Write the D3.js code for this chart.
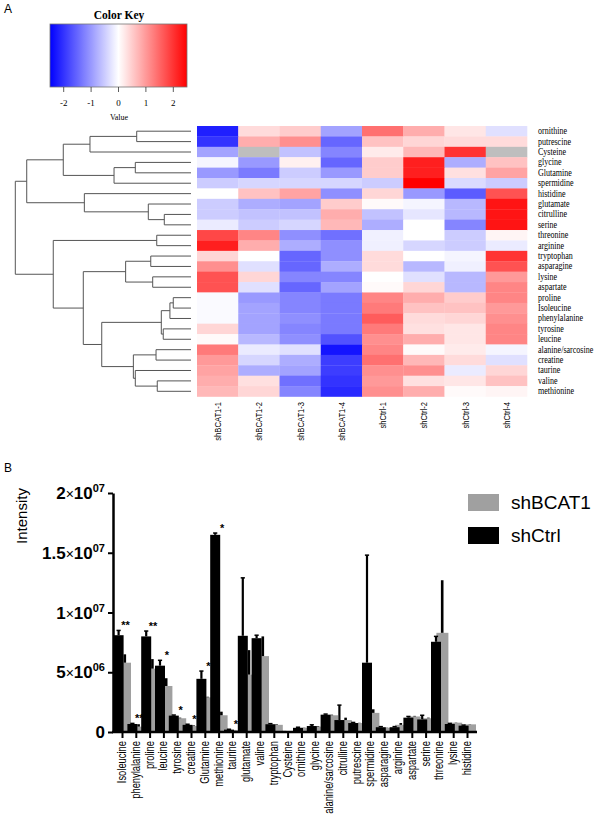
<!DOCTYPE html>
<html lang="en">
<head>
  <meta charset="UTF-8">
  <title>heatmap + bars</title>
  <script src="https://cdn.jsdelivr.net/npm/d3@7"></script>
  <style>
    body { margin: 0; background: #fff; }
  </style>
</head>
<body>
<svg></svg>
<script>
  const width = 610, height = 827

  // ---- panel A data ----
  const samples = ['shBCAT1-1', 'shBCAT1-2', 'shBCAT1-3', 'shBCAT1-4', 'shCtrl-1', 'shCtrl-2', 'shCtrl-3', 'shCtrl-4']
  const rowNames = ['ornithine', 'putrescine', 'Cysteine', 'glycine', 'Glutamine', 'spermidine', 'histidine',
    'glutamate', 'citrulline', 'serine', 'threonine', 'arginine', 'tryptophan', 'asparagine', 'lysine',
    'aspartate', 'proline', 'Isoleucine', 'phenylalanine', 'tyrosine', 'leucine', 'alanine/sarcosine',
    'creatine', 'taurine', 'valine', 'methionine']
  // row z-scores, one array per row, null = missing (grey)
  const zOrnithine = [-2.2, 0.35, 0.5, -0.9, 1.4, 0.8, 0.25, -0.3]
  const zPutrescine = [-2.0, 0.8, 1.1, -1.5, 0.6, 0.4, 0.35, 0.35]
  const zCysteine = [-0.9, null, -0.6, -1.2, 0.2, 0.7, 2.0, null]
  const zGlycine = [-0.1, -1.0, 0.15, -1.5, 0.5, 2.2, -0.8, 0.6]
  const zGlutamine = [-1.0, -1.3, -0.5, -1.0, 0.5, 2.2, 0.3, 0.9]
  const zSpermidine = [-0.5, -0.4, -0.4, -0.4, -0.5, 2.5, -0.35, -0.5]
  const zHistidine = [0.0, 0.6, 0.9, -1.1, 0.4, -1.0, -1.6, 1.7]
  const zGlutamate = [-0.5, -0.8, -0.9, 0.5, 0.05, -0.1, -0.7, 2.3]
  const zCitrulline = [-0.5, -0.6, -0.6, 0.8, -0.6, -0.25, -0.7, 2.3]
  const zSerine = [-0.2, -0.5, -0.4, 0.7, -0.8, 0.0, -1.2, 2.3]
  const zThreonine = [1.8, 1.2, -1.1, -1.4, -0.15, 0.0, -0.5, 0.1]
  const zArginine = [2.2, 0.8, -0.8, -1.1, -0.15, -0.4, -0.5, -0.2]
  const zTryptophan = [0.4, 0.0, -1.5, -1.1, 0.35, 0.0, -0.1, 2.0]
  const zAsparagine = [1.1, -0.3, -1.5, -0.8, 0.35, -0.7, -0.15, 1.7]
  const zLysine = [1.7, 0.4, -1.2, -1.2, 0.0, -0.3, -0.7, 1.0]
  const zAspartate = [1.7, -0.3, -1.5, -0.9, 0.05, 0.4, -0.7, 1.2]
  const zProline = [-0.05, -1.0, -1.2, -1.3, 1.2, 0.8, 0.5, 1.2]
  const zIsoleucine = [-0.05, -0.9, -1.2, -1.3, 1.3, 0.6, 0.6, 1.0]
  const zPhenylalanine = [-0.05, -0.9, -1.1, -1.3, 1.6, 0.35, 0.4, 1.1]
  const zTyrosine = [0.4, -0.9, -1.2, -1.3, 1.3, 0.3, 0.25, 1.2]
  const zLeucine = [0.05, -0.7, -1.1, -1.7, 1.1, 0.8, 0.25, 1.2]
  const zAlanine = [1.3, -0.2, -0.3, -2.3, 1.2, 0.05, 0.2, -0.1]
  const zCreatine = [1.0, -0.4, -0.8, -1.9, 1.4, 0.7, 0.35, -0.3]
  const zTaurine = [0.9, -0.8, -0.9, -1.9, 1.1, 1.1, -0.2, 0.4]
  const zValine = [0.8, 0.3, -1.4, -2.0, 1.0, 0.3, 0.25, 0.6]
  const zMethionine = [0.7, 0.4, -1.2, -2.1, 1.1, 0.8, 0.05, 0.1]
  const zRows = [zOrnithine, zPutrescine, zCysteine, zGlycine, zGlutamine, zSpermidine, zHistidine,
    zGlutamate, zCitrulline, zSerine, zThreonine, zArginine, zTryptophan, zAsparagine, zLysine,
    zAspartate, zProline, zIsoleucine, zPhenylalanine, zTyrosine, zLeucine, zAlanine, zCreatine,
    zTaurine, zValine, zMethionine]

  // hclust style merges: negative = leaf (1-based), positive = earlier merge, then height
  const dendroMerges = [
    [-1, -2, 3.09], [1, -3, 5.75], [-4, -5, 3.17], [3, -6, 4.38], [2, 4, 7.27],
    [-9, -10, 1.52], [-8, 6, 2.43], [-7, 7, 6.07], [5, 8, 9.35], [-11, -12, 1.95],
    [-13, -14, 2.29], [-15, -16, 2.18], [11, 12, 3.72], [-17, -18, 1.01], [14, -19, 1.20],
    [-20, -21, 1.58], [15, 16, 1.69], [-22, -23, 1.99], [-25, -26, 1.92], [-24, 19, 3.17],
    [18, 20, 3.28], [17, 21, 5.08], [13, 22, 6.13], [10, 23, 7.84], [9, 24, 10.0]
  ]
  const keyTicks = [-2, -1, 0, 1, 2]

  // ---- panel B data ----
  const metabolites = ['Isoleucine', 'phenylalanine', 'proline', 'leucine', 'tyrosine', 'creatine', 'Glutamine',
    'methionine', 'taurine', 'glutamate', 'valine', 'tryptophan', 'Cysteine', 'ornithine', 'glycine',
    'alanine/sarcosine', 'citrulline', 'putrescine', 'spermidine', 'asparagine', 'arginine', 'aspartate',
    'serine', 'threonine', 'lysine', 'histidine']
  const shCtrl = [8.1e6, 0.67e6, 8.0e6, 5.55e6, 1.37e6, 0.6e6, 4.45e6, 16.5e6, 0.2e6, 8.05e6, 7.85e6, 0.65e6,
    0.02e6, 0.35e6, 0.5e6, 1.45e6, 1.0e6, 0.75e6, 5.8e6, 0.4e6, 0.4e6, 1.2e6, 1.05e6, 7.55e6, 0.67e6, 0.53e6]
  const shCtrlErr = [0.4e6, 0.05e6, 0.45e6, 0.45e6, 0.05e6, 0.05e6, 0.65e6, 0.15e6, 0.03e6, 4.85e6, 0.25e6, 0.05e6,
    0.01e6, 0.05e6, 0.1e6, 0.05e6, 1.25e6, 0.05e6, 9.0e6, 0.05e6, 0.05e6, 0.1e6, 0.35e6, 0.45e6, 0.05e6, 0.05e6]
  const shBCAT1 = [5.8e6, 0.45e6, 5.3e6, 3.85e6, 1.15e6, 0.5e6, 2.9e6, 1.4e6, 0.15e6, 4.8e6, 6.35e6, 0.6e6,
    0.02e6, 0.35e6, 0.45e6, 1.4e6, 1.0e6, 0.75e6, 1.6e6, 0.35e6, 0.6e6, 1.3e6, 1.15e6, 8.3e6, 0.78e6, 0.64e6]
  const shBCAT1Err = [0.7e6, 0.2e6, 0.8e6, 0.65e6, 0.05e6, 0.05e6, 0.05e6, 0.3e6, 0.02e6, 2.05e6, 1.65e6, 0.05e6,
    0, 0.02e6, 0.05e6, 0.05e6, 0.2e6, 0.02e6, 0.3e6, 0.02e6, 0.15e6, 0.05e6, 0.05e6, 4.4e6, 0.02e6, 0.02e6]
  const stars = ['**', '**', '**', '*', '*', '*', '*', '*', '*', '', '', '', '', '', '', '', '', '', '', '', '', '', '', '', '', '']
  const yTickVals = [0, 5e6, 1e7, 1.5e7, 2e7]
  const yTickMant = ['0', '5', '1', '1.5', '2']
  const yTickExp = ['', '06', '07', '07', '07']
  const legendNames = ['shBCAT1', 'shCtrl']

  const serif = '"Liberation Serif", "DejaVu Serif", serif'
  const sans = '"Liberation Sans", Arial, sans-serif'

  const svg = d3.select('svg')
      .attr('width', width)
      .attr('height', height)
      .attr('viewBox', [0, 0, width, height])

  // panel letters
  svg.append('text').attr('x', 4).attr('y', 13).text('A')
      .style('font-family', sans).style('font-size', '12px')
  svg.append('text').attr('x', 4).attr('y', 472).text('B')
      .style('font-family', sans).style('font-size', '12px')

  // ================= A: heatmap =================
  const color = d3.scaleLinear()
      .domain([-2.5, 0, 2.5])
      .range(['#0000ff', '#ffffff', '#ff0000'])

  // color key
  const keyX = d3.scaleLinear().domain([-2.5, 2.5]).range([50, 187])
  const grad = svg.append('defs').append('linearGradient').attr('id', 'kg')
  d3.range(-2.5, 2.51, 0.25).forEach(v => {
    grad.append('stop').attr('offset', (v + 2.5) / 5).attr('stop-color', color(v))
  })
  svg.append('rect')
      .attr('x', keyX(-2.5)).attr('y', 24)
      .attr('width', keyX(2.5) - keyX(-2.5)).attr('height', 63)
      .attr('fill', 'url(#kg)')
      .attr('stroke', '#777').attr('stroke-width', 0.8)
  svg.append('text').attr('x', 119).attr('y', 19).attr('text-anchor', 'middle')
      .text('Color Key')
      .style('font-family', serif).style('font-size', '11.5px').style('font-weight', 'bold')
  const keyAxis = svg.append('g')
  keyAxis.selectAll('line').data(keyTicks).join('line')
      .attr('x1', d => keyX(d)).attr('x2', d => keyX(d))
      .attr('y1', 87).attr('y2', 92)
      .attr('stroke', '#333').attr('stroke-width', 0.8)
  keyAxis.selectAll('text').data(keyTicks).join('text')
      .attr('x', d => keyX(d)).attr('y', 106).attr('text-anchor', 'middle')
      .text(d => d)
      .style('font-family', serif).style('font-size', '9px')
  svg.append('text').attr('x', 119).attr('y', 120).attr('text-anchor', 'middle')
      .text('Value')
      .style('font-family', serif).style('font-size', '8px')

  const colX = d3.scaleBand().domain(samples).range([197, 527])
  const rowY = d3.scaleBand().domain(rowNames).range([126, 396.5])

  const cells = []
  zRows.forEach((r, i) => r.forEach((v, j) => cells.push({row: rowNames[i], col: samples[j], v})))

  svg.append('g')
    .selectAll('rect')
    .data(cells)
    .join('rect')
      .attr('x', d => colX(d.col))
      .attr('y', d => rowY(d.row))
      .attr('width', colX.bandwidth() + 0.3)
      .attr('height', rowY.bandwidth() + 0.3)
      .attr('fill', d => d.v === null ? '#bebebe' : color(d.v))

  // row labels
  svg.append('g')
    .selectAll('text')
    .data(rowNames)
    .join('text')
      .attr('transform', d => `translate(538,${rowY(d) + rowY.bandwidth() / 2 + 3}) scale(0.82,1)`)
      .text(d => d)
      .style('font-family', serif).style('font-size', '9.8px').attr('fill', '#000')

  // column labels
  svg.append('g')
    .selectAll('text')
    .data(samples)
    .join('text')
      .attr('transform', d => `translate(${colX(d) + colX.bandwidth() / 2 + 3.5},402) rotate(-90) scale(0.8,1)`)
      .attr('text-anchor', 'end')
      .text(d => d)
      .style('font-family', sans).style('font-size', '9.5px').attr('fill', '#000')

  // dendrogram
  const dX = d3.scaleLinear().domain([0, 10]).range([191, 15.3])
  const nodes = []
  const pos = ref => ref < 0
      ? {x: dX(0), y: rowY(rowNames[-ref - 1]) + rowY.bandwidth() / 2}
      : nodes[ref - 1]
  const dendro = svg.append('g')
      .attr('fill', 'none').attr('stroke', '#555').attr('stroke-width', 1)
  dendroMerges.forEach(([a, b, h]) => {
    const pa = pos(a), pb = pos(b)
    const x = dX(h)
    const path = d3.path()
    path.moveTo(pa.x, pa.y); path.lineTo(x, pa.y); path.lineTo(x, pb.y); path.lineTo(pb.x, pb.y)
    dendro.append('path').attr('d', path.toString())
    nodes.push({x, y: (pa.y + pb.y) / 2})
  })

  // ================= B: bars =================
  const x = d3.scalePoint().domain(metabolites).range([122, 467])
  const y = d3.scaleLinear().domain([0, 2e7]).range([732, 493])
  const grey = '#a0a0a0'

  const bars = metabolites.map((m, i) => ({
    m, ctrl: shCtrl[i], ctrlErr: shCtrlErr[i], bcat: shBCAT1[i], bcatErr: shBCAT1Err[i], star: stars[i]
  }))

  const gb = svg.append('g')
  // shBCAT1 bars (behind)
  gb.selectAll('rect.bcat').data(bars).join('rect').attr('class', 'bcat')
      .attr('x', d => x(d.m) - 3).attr('width', 12)
      .attr('y', d => y(d.bcat)).attr('height', d => y(0) - y(d.bcat))
      .attr('fill', grey)
  // shBCAT1 error (black)
  gb.selectAll('rect.bcatErr').data(bars).join('rect').attr('class', 'bcatErr')
      .attr('x', d => x(d.m) + 1.5).attr('width', 2.6)
      .attr('y', d => y(d.bcat + d.bcatErr)).attr('height', d => y(d.bcat) - y(d.bcat + d.bcatErr))
      .attr('fill', '#000')
  // shCtrl bars
  gb.selectAll('rect.ctrl').data(bars).join('rect').attr('class', 'ctrl')
      .attr('x', d => x(d.m) - 8.4).attr('width', 10)
      .attr('y', d => y(d.ctrl)).attr('height', d => y(0) - y(d.ctrl))
      .attr('fill', '#000')
  // shCtrl error
  gb.selectAll('line.ctrlErr').data(bars).join('line').attr('class', 'ctrlErr')
      .attr('x1', d => x(d.m) - 3.4).attr('x2', d => x(d.m) - 3.4)
      .attr('y1', d => y(d.ctrl)).attr('y2', d => y(d.ctrl + d.ctrlErr))
      .attr('stroke', '#000').attr('stroke-width', 2.2)
  gb.selectAll('line.ctrlCap').data(bars).join('line').attr('class', 'ctrlCap')
      .attr('x1', d => x(d.m) - 5.5).attr('x2', d => x(d.m) - 1.3)
      .attr('y1', d => y(d.ctrl + d.ctrlErr)).attr('y2', d => y(d.ctrl + d.ctrlErr))
      .attr('stroke', '#000').attr('stroke-width', 1.5)
  // significance
  gb.selectAll('text.star').data(bars.filter(d => d.star)).join('text').attr('class', 'star')
      .attr('x', d => x(d.m) + 3.5).attr('y', d => y(d.ctrl + d.ctrlErr) - 1)
      .attr('text-anchor', 'middle')
      .text(d => d.star)
      .style('font-family', sans).style('font-size', '11px').style('font-weight', 'bold')

  // y axis
  const yAxis = svg.append('g')
      .attr('transform', 'translate(113,0)')
      .call(d3.axisLeft(y).tickValues(yTickVals).tickSize(5).tickSizeOuter(0).tickFormat(''))
  yAxis.select('.domain').attr('stroke-width', 2.5)
  yAxis.selectAll('.tick line').attr('stroke-width', 2)

  const yLab = svg.append('g')
    .selectAll('text')
    .data(yTickVals.map((v, i) => ({v, m: yTickMant[i], e: yTickExp[i]})))
    .join('text')
      .attr('x', 105).attr('y', d => y(d.v) + 6)
      .attr('text-anchor', 'end')
      .style('font-family', sans).style('font-size', '17px').style('font-weight', 'bold')
  yLab.append('tspan').text(d => d.m)
  yLab.filter(d => d.e).append('tspan').text('×').style('font-weight', 'normal').style('font-size', '14px')
  yLab.filter(d => d.e).append('tspan').text('10')
  yLab.filter(d => d.e).append('tspan').text(d => d.e)
      .attr('dy', -7).style('font-size', '11px')

  svg.append('text')
      .attr('transform', 'translate(27,516) rotate(-90)')
      .attr('text-anchor', 'middle')
      .text('Intensity')
      .style('font-family', sans).style('font-size', '15px')

  // x axis
  svg.append('line')
      .attr('x1', 112).attr('x2', 477).attr('y1', y(0)).attr('y2', y(0))
      .attr('stroke', '#000').attr('stroke-width', 2.5)
  const xAxis = svg.append('g')
      .attr('transform', `translate(0,${y(0)})`)
      .call(d3.axisBottom(x).tickSize(6).tickSizeOuter(0).tickFormat(''))
  xAxis.select('.domain').remove()
  xAxis.selectAll('.tick line').attr('stroke-width', 2)

  svg.append('g')
    .selectAll('text')
    .data(metabolites)
    .join('text')
      .attr('transform', d => `translate(${x(d) + 4},741) rotate(-90) scale(0.75,1)`)
      .attr('text-anchor', 'end')
      .text(d => d)
      .style('font-family', sans).style('font-size', '12.5px')

  // legend
  const legend = svg.append('g')
  legend.selectAll('rect').data(legendNames).join('rect')
      .attr('x', 468).attr('y', (d, i) => 494 + i * 33)
      .attr('width', 31).attr('height', 17)
      .attr('fill', (d, i) => i === 0 ? grey : '#000')
  legend.selectAll('text').data(legendNames).join('text')
      .attr('x', 511).attr('y', (d, i) => 509 + i * 33)
      .text(d => d)
      .style('font-family', sans).style('font-size', '19px')
</script>
</body>
</html>
